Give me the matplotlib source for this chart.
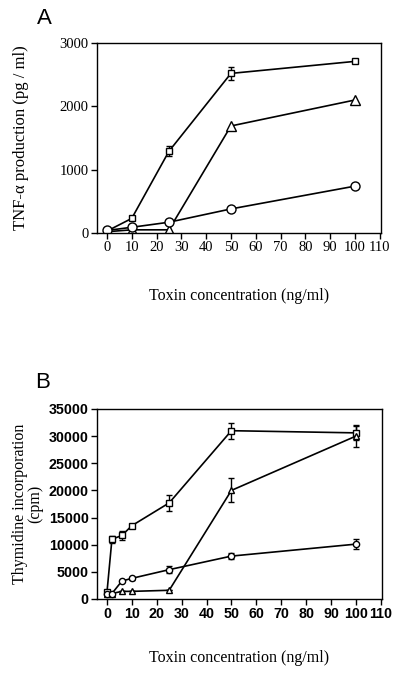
import numpy as np
import matplotlib
matplotlib.use('Agg')
from matplotlib import pyplot as plt

# Panel A - TNF-alpha production
xA = [0, 10, 25, 50, 100]
sqA = [30, 230, 1290, 2520, 2710]
sqA_err = [0, 0, 80, 100, 0]
triA = [20, 50, 50, 1690, 2100]
cirA = [40, 90, 170, 380, 740]

# Panel B - thymidine incorporation
xB = [0, 2, 6, 10, 25, 50, 100]
sqB = [1200, 11000, 11700, 13500, 17700, 31000, 30600]
sqB_err = [0, 600, 900, 300, 1500, 1500, 1300]
triB = [1000, 1000, 1400, 1400, 1600, 20000, 30000]
triB_err = [0, 0, 0, 0, 0, 2200, 2000]
cirB = [1000, 1000, 3300, 3800, 5400, 7900, 10100]
cirB_err = [0, 0, 0, 300, 700, 600, 900]

xticks = [0, 10, 20, 30, 40, 50, 60, 70, 80, 90, 100, 110]
serif = 'Liberation Serif'
sans = 'Liberation Sans'

fig = plt.figure(figsize=(4, 6.73), dpi=100)

#Panel A
axA = fig.add_axes([0.2425, 0.6538, 0.71, 0.2823])
kw = dict(color='black', lw=1.2, mfc='white', mec='black', mew=1.0, capsize=2.5, elinewidth=1.0)
axA.errorbar(xA, sqA, yerr=sqA_err, marker='s', ms=5, **kw)
axA.errorbar(xA, triA, marker='^', ms=6.5, **kw)
axA.errorbar(xA, cirA, marker='o', ms=6.5, **kw)
axA.set_xlim(-4, 110.5)
axA.set_ylim(0, 3000)
axA.set_xticks(xticks)
axA.set_yticks([0, 1000, 2000, 3000])
for lab in axA.get_xticklabels() + axA.get_yticklabels():
    lab.set_fontfamily(serif)
    lab.set_fontsize(10.5)
axA.set_ylabel('TNF-α production (pg / ml)', fontfamily=serif, fontsize=12, labelpad=22)
axA.set_xlabel('Toxin concentration (ng/ml)', fontfamily=serif, fontsize=11.5, labelpad=24)
axA.tick_params(direction='out', length=4, width=1, pad=2)
for s in axA.spines.values():
    s.set_linewidth(1)
fig.text(0.092, 0.973, 'A', fontfamily=sans, fontsize=16, ha='left', va='center')

#Panel B
axB = fig.add_axes([0.2425, 0.11, 0.7125, 0.2823])
axB.errorbar(xB, sqB, yerr=sqB_err, marker='s', ms=5, **kw)
axB.errorbar(xB, triB, yerr=triB_err, marker='^', ms=4.5, **kw)
axB.errorbar(xB, cirB, yerr=cirB_err, marker='o', ms=4.5, **kw)
axB.set_xlim(-4, 110.5)
axB.set_ylim(0, 35000)
axB.set_xticks(xticks)
axB.set_yticks(np.arange(0, 35001, 5000))
for lab in axB.get_xticklabels() + axB.get_yticklabels():
    lab.set_fontfamily(sans)
    lab.set_fontweight('bold')
    lab.set_fontsize(10.3)
axB.set_ylabel('Thymidine incorporation\n(cpm)', fontfamily=serif, fontsize=11.5, labelpad=4, linespacing=0.95)
axB.set_xlabel('Toxin concentration (ng/ml)', fontfamily=serif, fontsize=11.5, labelpad=21)
axB.tick_params(direction='out', length=4, width=1, pad=2)
for s in axB.spines.values():
    s.set_linewidth(1)
fig.text(0.087, 0.431, 'B', fontfamily=sans, fontsize=16, ha='left', va='center')

plt.savefig('out.png', dpi=100)
